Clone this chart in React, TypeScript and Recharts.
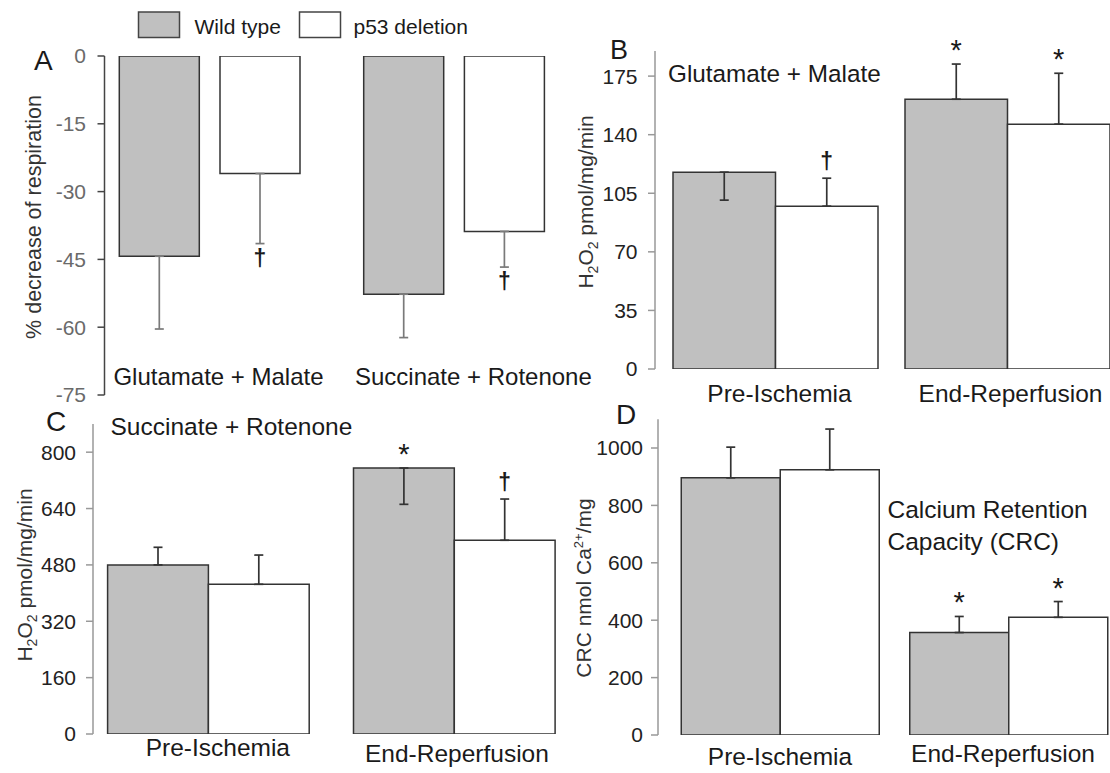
import React from 'react';
import { BarChart, Bar, XAxis, YAxis, ErrorBar, LabelList } from 'recharts';

const FONT = '"Liberation Sans", Arial, Helvetica, sans-serif';

// ---------- data ----------
const seriesNames = ['Wild type', 'p53 deletion'];

// Panel A: % decrease of respiration
const aCategories = ['Glutamate + Malate', 'Succinate + Rotenone'];
const aWild = [-44.3, -52.7];
const aWildErrLow = [16.1, 9.6];
const aWildErrHigh = [0, 0];
const aP53 = [-26.0, -38.8];
const aP53ErrLow = [15.5, 7.9];
const aP53ErrHigh = [0, 0];
const aWildMarks = ['', ''];
const aP53Marks = ['†', '†'];
const aTicks = [0, -15, -30, -45, -60, -75];

// Panels B-D: phases
const phaseCategories = ['Pre-Ischemia', 'End-Reperfusion'];

// Panel B: H2O2, Glutamate + Malate
const bWild = [117.6, 161.2];
const bWildErrLow = [16.7, 0];
const bWildErrHigh = [0, 21];
const bP53 = [97.3, 146.3];
const bP53ErrLow = [0, 0];
const bP53ErrHigh = [16.7, 30.4];
const bWildMarks = ['', '*'];
const bP53Marks = ['†', '*'];
const bTicks = [0, 35, 70, 105, 140, 175];

// Panel C: H2O2, Succinate + Rotenone
const cWild = [480, 755];
const cWildErrLow = [0, 103];
const cWildErrHigh = [50, 0];
const cP53 = [425, 550];
const cP53ErrLow = [0, 0];
const cP53ErrHigh = [83, 117];
const cWildMarks = ['', '*'];
const cP53Marks = ['', '†'];
const cTicks = [0, 160, 320, 480, 640, 800];

// Panel D: CRC
const dWild = [896, 357];
const dWildErrLow = [0, 0];
const dWildErrHigh = [107, 56];
const dP53 = [924, 410];
const dP53ErrLow = [0, 0];
const dP53ErrHigh = [142, 55];
const dWildMarks = ['', '*'];
const dP53Marks = ['', '*'];
const dTicks = [0, 200, 400, 600, 800, 1000];

// ---------- helpers ----------
type Row = {
  cat: string;
  wt: number;
  wtErr: [number, number];
  p53: number;
  p53Err: [number, number];
  wtMark: string;
  p53Mark: string;
};

function buildRows(
  cats: string[],
  wt: number[], wtLo: number[], wtHi: number[],
  p53: number[], p53Lo: number[], p53Hi: number[],
  wtMarks: string[], p53Marks: string[]
): Row[] {
  return cats.map((c, i) => ({
    cat: c,
    wt: wt[i],
    wtErr: [wtLo[i], wtHi[i]],
    p53: p53[i],
    p53Err: [p53Lo[i], p53Hi[i]],
    wtMark: wtMarks[i],
    p53Mark: p53Marks[i],
  }));
}

const makeMarker = (rows: Row[], valueKey: 'wt' | 'p53', errKey: 'wtErr' | 'p53Err', color: string) =>
  (props: any) => {
    const { index, value } = props;
    if (!value) return null;
    const vb = props.viewBox && props.viewBox.width !== undefined ? props.viewBox : props;
    const x = Number(vb.x);
    const y = Number(vb.y);
    const w = Number(vb.width);
    const h = Number(vb.height);
    const row = rows[index];
    if (!row) return null;
    const v = row[valueKey];
    const [lo, hi] = row[errKey];
    const top = Math.min(y, y + h);
    const bottom = Math.max(y, y + h);
    const ppu = Math.abs(h) / Math.abs(v);
    const cx = x + w / 2;
    const isStar = value === '*';
    let base: number;
    if (v >= 0) {
      const end = top - hi * ppu;
      base = end - (isStar ? 4 : 9);
    } else {
      const end = bottom + lo * ppu;
      base = end + 22;
    }
    return (
      <text
        x={cx}
        y={base}
        textAnchor="middle"
        fontFamily={FONT}
        fontSize={isStar ? 29 : 23}
        fontWeight={isStar ? 'normal' : 'bold'}
        fill={color}
      >
        {value}
      </text>
    );
  };

const makeCatTick = (cats: string[], dx: number[], dy: number[], fontSize: number, color: string) => (props: any) => {
  const { x, y, payload } = props;
  const label = String(payload && payload.value);
  let i = cats.indexOf(label);
  if (i < 0) i = 0;
  return (
    <text
      x={Number(x) + dx[i]}
      y={Number(y) + dy[i]}
      textAnchor="middle"
      fontFamily={FONT}
      fontSize={fontSize}
      fill={color}
    >
      {label}
    </text>
  );
};

type PanelProps = {
  rows: Row[];
  cats: string[];
  domain: [number, number];
  ticks: number[];
  margin: { top: number; right: number; bottom: number; left: number };
  padLeft: number;
  padRight: number;
  barSize: number;
  barGap: number;
  labelDx: number[];
  labelDy: number[];
  labelSize: number;
  tickColor: string;
  tickMargin: number;
  axisColor: string;
  errColor: string;
  errWidth: number;
};

const YW = 60;
const XH = 1;

function Panel(p: PanelProps) {
  return (
    <div style={{ position: 'absolute', left: 0, top: 0 }}>
      <BarChart
        width={1110}
        height={773}
        data={p.rows}
        margin={{ ...p.margin, bottom: p.margin.bottom - XH }}
        barGap={p.barGap}
        barSize={p.barSize}
      >
        <XAxis
          dataKey="cat"
          height={XH}
          axisLine={false}
          tickLine={false}
          tickSize={0}
          tickMargin={0}
          interval={0}
          padding={{ left: p.padLeft, right: p.padRight }}
          tick={makeCatTick(p.cats, p.labelDx, p.labelDy, p.labelSize, '#1a1a1a')}
        />
        <YAxis
          type="number"
          width={YW}
          domain={p.domain}
          ticks={p.ticks}
          interval={0}
          allowDataOverflow
          tickSize={7}
          tickMargin={p.tickMargin}
          axisLine={{ stroke: p.axisColor, strokeWidth: 1.5 }}
          tickLine={{ stroke: p.axisColor, strokeWidth: 1.5 }}
          tick={{ fill: p.tickColor, fontSize: 21, fontFamily: FONT }}
        />
        <Bar
          dataKey="wt"
          name={seriesNames[0]}
          fill="#c0c0c0"
          stroke="#333"
          strokeWidth={1.5}
          isAnimationActive={false}
        >
          <ErrorBar dataKey="wtErr" width={p.errWidth} stroke={p.errColor} strokeWidth={1.7} direction="y" />
          <LabelList dataKey="wtMark" content={makeMarker(p.rows, 'wt', 'wtErr', '#1a1a1a')} />
        </Bar>
        <Bar
          dataKey="p53"
          name={seriesNames[1]}
          fill="#ffffff"
          stroke="#333"
          strokeWidth={1.5}
          isAnimationActive={false}
        >
          <ErrorBar dataKey="p53Err" width={p.errWidth} stroke={p.errColor} strokeWidth={1.7} direction="y" />
          <LabelList dataKey="p53Mark" content={makeMarker(p.rows, 'p53', 'p53Err', '#1a1a1a')} />
        </Bar>
      </BarChart>
    </div>
  );
}

const rowsA = buildRows(aCategories, aWild, aWildErrLow, aWildErrHigh, aP53, aP53ErrLow, aP53ErrHigh, aWildMarks, aP53Marks);
const rowsB = buildRows(phaseCategories, bWild, bWildErrLow, bWildErrHigh, bP53, bP53ErrLow, bP53ErrHigh, bWildMarks, bP53Marks);
const rowsC = buildRows(phaseCategories, cWild, cWildErrLow, cWildErrHigh, cP53, cP53ErrLow, cP53ErrHigh, cWildMarks, cP53Marks);
const rowsD = buildRows(phaseCategories, dWild, dWildErrLow, dWildErrHigh, dP53, dP53ErrLow, dP53ErrHigh, dWildMarks, dP53Marks);

function Overlay() {
  const t = { fontFamily: FONT, fill: '#1a1a1a' } as const;
  return (
    <svg
      width={1110}
      height={773}
      style={{ position: 'absolute', left: 0, top: 0, pointerEvents: 'none' }}
    >
      {/* legend */}
      <rect x={138.5} y={12} width={41} height={25.5} fill="#c0c0c0" stroke="#444" strokeWidth={1.5} />
      <text x={194.5} y={34} fontSize={21} {...t}>{seriesNames[0]}</text>
      <rect x={299.5} y={12} width={41} height={25.5} fill="#fff" stroke="#444" strokeWidth={1.5} />
      <text x={353.5} y={34} fontSize={21} {...t}>{seriesNames[1]}</text>

      {/* panel letters */}
      <text x={34} y={70} fontSize={28} {...t}>A</text>
      <text x={610} y={59} fontSize={27} {...t}>B</text>
      <text x={46} y={431} fontSize={28} {...t}>C</text>
      <text x={616} y={424} fontSize={28} {...t}>D</text>

      {/* subtitles */}
      <text x={668} y={82} fontSize={24.3} {...t}>Glutamate + Malate</text>
      <text x={110.5} y={435} fontSize={24.5} {...t}>Succinate + Rotenone</text>
      <text x={887.5} y={518} fontSize={24.5} {...t}>Calcium Retention</text>
      <text x={887.5} y={550} fontSize={24.5} {...t}>Capacity (CRC)</text>

      {/* y titles */}
      <text x={41} y={217} fontSize={21.5} textAnchor="middle" transform="rotate(-90 41 217)" fontFamily={FONT} fill="#333">
        % decrease of respiration
      </text>
      <text x={593} y={202} fontSize={21} textAnchor="middle" transform="rotate(-90 593 202)" fontFamily={FONT} fill="#333">
        H<tspan dy={5} fontSize={14}>2</tspan><tspan dy={-5}>O</tspan><tspan dy={5} fontSize={14}>2</tspan><tspan dy={-5}> pmol/mg/min</tspan>
      </text>
      <text x={32} y={575} fontSize={21} textAnchor="middle" transform="rotate(-90 32 575)" fontFamily={FONT} fill="#333">
        H<tspan dy={5} fontSize={14}>2</tspan><tspan dy={-5}>O</tspan><tspan dy={5} fontSize={14}>2</tspan><tspan dy={-5}> pmol/mg/min</tspan>
      </text>
      <text x={591} y={588} fontSize={21} textAnchor="middle" transform="rotate(-90 591 588)" fontFamily={FONT} fill="#333">
        CRC nmol Ca<tspan dy={-8} fontSize={13}>2+</tspan><tspan dy={8}>/mg</tspan>
      </text>
    </svg>
  );
}

export default function App() {
  return (
    <div
      style={{
        position: 'absolute',
        left: 0,
        top: 0,
        width: 1110,
        height: 773,
        background: '#ffffff',
        overflow: 'hidden',
      }}
    >
      <Panel
        rows={rowsA}
        cats={aCategories}
        domain={[-75, 0]}
        ticks={aTicks}
        margin={{ top: 56, right: 533.9, bottom: 378, left: 104.5 - YW }}
        padLeft={-17.2}
        padRight={0}
        barSize={80}
        barGap={20.7}
        labelDx={[9, 19.5]}
        labelDy={[-10, -10]}
        labelSize={24}
        tickColor="#6a6a6a"
        tickMargin={11.5}
        axisColor="#444"
        errColor="#7a7a7a"
        errWidth={4.5}
      />
      <Panel
        rows={rowsB}
        cats={phaseCategories}
        domain={[0, 190]}
        ticks={bTicks}
        margin={{ top: 51, right: 0, bottom: 404, left: 655 - YW }}
        padLeft={4}
        padRight={-13}
        barSize={102.5}
        barGap={0}
        labelDx={[4.5, 3.5]}
        labelDy={[32.7, 32.7]}
        labelSize={24.5}
        tickColor="#222"
        tickMargin={10.5}
        axisColor="#999"
        errColor="#333"
        errWidth={4.5}
      />
      <Panel
        rows={rowsC}
        cats={phaseCategories}
        domain={[0, 880]}
        ticks={cTicks}
        margin={{ top: 424, right: 532.6, bottom: 39, left: 93 - YW }}
        padLeft={-7.4}
        padRight={0}
        barSize={100.8}
        barGap={0}
        labelDx={[9.3, 2.5]}
        labelDy={[22, 28]}
        labelSize={24.5}
        tickColor="#222"
        tickMargin={10}
        axisColor="#999"
        errColor="#333"
        errWidth={4.5}
      />
      <Panel
        rows={rowsD}
        cats={phaseCategories}
        domain={[0, 1100]}
        ticks={dTicks}
        margin={{ top: 419.3, right: 0, bottom: 38, left: 658 - YW }}
        padLeft={8.25}
        padRight={-13.25}
        barSize={99}
        barGap={0}
        labelDx={[-0.5, -6]}
        labelDy={[30, 27]}
        labelSize={24.5}
        tickColor="#222"
        tickMargin={8}
        axisColor="#999"
        errColor="#333"
        errWidth={4.5}
      />
      <Overlay />
    </div>
  );
}
